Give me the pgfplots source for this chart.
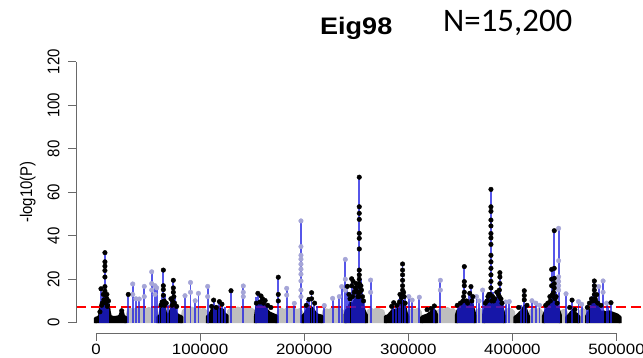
\documentclass[border=0pt]{standalone}
\usepackage{fontspec}
\setmainfont{Liberation Sans}[FakeStretch=1.13]
\newfontfamily\rotfont{Liberation Sans}
\newfontfamily\calib{Carlito}
\usepackage{pgfplots}
\usepackage{pgfplotstable}
\pgfplotsset{compat=1.18}
\definecolor{rblue}{RGB}{30,30,225}
\definecolor{lav}{RGB}{165,165,215}
\definecolor{rgrey}{RGB}{190,190,190}
\definecolor{axgrey}{RGB}{105,105,105}

\pgfplotstableread{
X Y
3800 5
4800 15.6
5500 8
6500 12
7500 10.5
8600 32.2
9800 14
10500 13
11000 7.5
12000 10
31000 13
35300 17.8
38400 11
41600 10.9
46400 16.7
53500 23.4
56700 17
58300 16
61000 9
63000 12
64700 24.2
66500 13
69000 8
72000 11
74300 19.5
76000 12
78000 8
85500 12.4
90800 18.5
95300 10.1
98400 13.5
107300 16.7
113000 10.4
115500 8
118500 9.7
121000 9
124000 7
129700 14.7
141500 16.9
153500 12
155500 13.5
157000 10
158500 12.3
160500 9
162500 10.2
164500 8
175100 20.9
183200 15.8
190500 8.9
196900 46.8
200500 8
203000 10
204500 10.7
207100 13.8
209500 9
212000 7.5
219300 7.9
227300 11.2
233700 12
236000 16.6
239500 29.1
240500 9
241500 16.7
242500 14
243500 12
245600 20.2
246500 12
247500 15
248500 17
249500 18
250500 14
251000 12
252900 66.9
254500 20
255200 15
256000 14
257000 11
258000 10
263800 19.6
285000 9
288000 8
291000 11
292000 13
294500 27
296500 12
300500 12
303700 10.4
310600 11.7
325000 7.7
330800 19.5
347500 8
349000 7
350000 9
351000 10
352000 12
353800 25.8
355000 9
356000 11
357000 9
358500 13.5
360200 16.6
361000 10
362500 12
365500 12
368000 10
371400 15
374000 9
375500 10
376500 12
377500 13
379400 61.3
380500 12
381500 14
383000 11
384000 10
385500 14
386500 13
388000 23
389000 11
390500 9
391500 8
393500 9.5
397000 9.7
408000 8
411400 14.7
413500 9
418800 10.1
422500 9
426000 8
431000 7
432500 8
434500 10
436500 12
437700 24.5
438500 13
440200 42.3
441000 11
442000 14
443000 9
444400 43.4
451500 13.3
457300 10.4
463500 9.7
466500 8.5
471500 7
473000 8
475500 11
476500 10
477500 13
478700 19.2
479800 10
480800 12.9
482000 9
482900 16.6
484500 9
486000 8
487100 19.2
490500 9
492000 7
494700 9.2
}\combs

\pgfplotstableread{
X Y
8600 32.2
8600 28
8600 26
8600 24
8600 21
8600 16.6
8600 14.5
9200 12.7
4800 15.6
7000 13
10500 13
10500 11
12000 10
6000 9
5500 8
7500 10.5
9500 9
11000 7.5
3800 5
24700 5.5
31000 13
64700 24.2
64700 17
64700 15.2
64700 12.6
65500 10
63500 9.5
65800 8
74300 19.5
74300 16
74300 14
74800 12
73500 10
73000 8
75500 9
62500 8
67500 9
72000 11
77500 7.5
113000 10.4
118500 9.7
111000 7.5
121000 8.5
115500 7
129700 14.7
155500 13.5
158500 12.3
160000 11
162500 10.2
165000 8
168000 7
154000 9
157500 9.5
161000 9
175100 20.9
175100 13
175100 10
204500 10.7
207100 13.8
207100 11
210000 9
202000 8
252900 66.9
252900 53.3
252900 50.3
252900 47.5
252900 41.1
252900 38.8
252900 33.9
252900 24.2
252900 22
252900 20
252900 18
252900 16.6
253500 14
252300 12
245600 20.2
245600 17
241500 16.7
248000 14
250000 18
250000 15
251500 12
255000 15
257000 10
244000 11
243000 13
246500 12
249000 16
251000 14
254500 17
256000 12
247000 19
294500 27
294500 24.2
294500 22
294500 19.5
294500 17
294500 15
294500 13
293500 11.5
286000 9.2
284000 7.5
289000 8
292000 13
296000 12
291500 9.5
295500 14
297000 9
325000 7.7
322000 6.5
318000 6
353800 25.8
353800 18.9
353800 17
353800 14
353200 12
360200 16.6
359000 13.5
362000 12
347000 8
350000 9
356000 10
352500 10
357000 9
361000 10
379400 61.3
379400 53.3
379400 51.2
379400 47.2
379400 44.5
379400 41
379400 39
379400 36
379400 31
379400 28
379400 25
379400 22
379400 19
379400 16
378800 13
380000 10
388000 23
388000 21
388000 18
387500 15
387500 12
374000 9
376500 12
382000 10
385000 14
390000 9
377500 13
381000 12
383000 11
386500 13
389000 11
375500 10
411400 14.7
411400 12.5
411400 10.5
406000 7
414000 8
440200 42.3
440200 25
440200 20.4
440200 18
440200 16
439500 14
439500 12
437700 24.5
437700 20
437700 17
434000 9
432000 8
436000 12
442000 12
438500 13
441000 11
436500 10
443000 9
457300 10.4
455000 7
460000 6
478700 19.2
478700 17
478700 15
478700 13
479500 11
481000 12.9
474000 9
476000 11
477000 10
480000 10
482000 9
494700 9.2
485000 8
472000 7
}\blackdots

\pgfplotstableread{
X Y
35300 17.8
35300 13
38400 11
41600 10.9
46400 16.7
46400 12
53500 23.4
53500 18
53500 15
56700 17
56700 13
58300 16
85500 12.4
90800 18.5
90800 14
95300 10.1
98400 13.5
107300 16.7
107300 12
141500 16.9
141500 14
141500 12
183200 15.8
183200 12.7
190500 8.9
196900 46.8
196900 35
196900 31
196900 29.2
196900 26.9
196900 24.6
196900 22.3
196900 19.2
196900 15
196900 12
219300 7.9
227300 11.2
233700 12
236000 16.6
239500 29.1
239500 20
239500 15
263800 19.6
263800 14
300500 12
303700 10.4
310600 11.7
330800 19.5
330800 15
365500 12
368000 10
371400 15
393500 9.5
397000 9.7
418800 10.1
422500 9
426000 8
444400 43.4
444400 28.5
444400 21.1
444400 19
444400 17
444400 15
451500 13.3
463500 9.7
466500 8.5
482900 16.6
487100 19.2
487100 14
490500 9
}\lavdots

\begin{document}
\begin{tikzpicture}
\useasboundingbox (0,0) rectangle (643bp,358bp);
\begin{axis}[
  at={(76bp,24.7bp)}, anchor=south west,
  width=567bp, height=282bp, scale only axis,
  xmin=-19200, xmax=525456, ymin=-4.87, ymax=124.78,
  clip=false,
  axis lines=left, axis line style={draw=none},
  xtick={0,100000,200000,300000,400000,500000},
  xticklabels={0,100000,200000,300000,400000,500000},
  ytick={0,20,40,60,80,100,120},
  yticklabels={},
  tick align=outside, major tick length=7.5bp,
  tick style={axgrey, line width=0.9bp},
  xticklabel style={font=\fontsize{15}{18}\selectfont, anchor=base, yshift=-13.5bp},
  blob/.style={draw=black, fill=black, line width=3bp, line join=round, mark=none},
]
% grey background points
\addplot[draw=rgrey, fill=rgrey, line width=2bp, line join=round, mark=none] coordinates {
(-600,-0.2) (-600,2) (29000,2) (30500,5.5) (33000,6.5) (36000,5.8) (39000,6.8) (42000,6) (45000,7) (48000,6.2) (51000,6.8) (54000,6) (57000,6.5) (58800,5) (60000,2)
(82000,2) (83500,5.5) (86000,6.5) (89000,6) (92000,7) (95000,6.2) (98000,6.8) (101000,6) (104000,6.5) (106500,5) (107500,2)
(125500,2) (127000,5.5) (130000,6.8) (133000,6) (136000,7) (139000,6.5) (142000,7.2) (145000,6.2) (148000,6.8) (151000,6) (153000,5) (154000,2)
(173500,2) (175000,5.5) (178000,6.5) (181000,5.8) (184000,6.8) (187000,6) (190000,6.5) (193000,5.8) (196000,6.3) (198000,5) (199000,2)
(217000,2) (218500,5.5) (221000,6.2) (224000,5.8) (227000,6.8) (230000,6) (233000,6.5) (236000,6) (238500,5) (239500,2)
(259500,2) (261000,5.5) (264000,6.5) (267000,5.8) (270000,6.8) (273000,6) (276000,5.5) (278000,2)
(299000,2) (300500,5.5) (303500,6.3) (306500,5.8) (309500,6.5) (312000,5) (313000,2)
(327000,2) (328500,5.5) (331500,6.5) (334500,6) (337500,6.8) (340500,6) (343500,6.3) (345500,5) (346500,2)
(364000,2) (365500,5.5) (368500,6.5) (371500,5) (372500,2)
(392000,2) (393500,5.5) (396500,6.5) (399500,6) (401500,5) (402500,2)
(415500,2) (417000,5.5) (420000,6.5) (423000,5.8) (426000,6.5) (428500,5) (430000,2)
(446000,2) (447500,5.5) (450000,6) (452000,5) (453000,2)
(463500,2) (465000,5.5) (467500,6.3) (470000,5.5) (471500,2)
(503500,2) (503500,-0.2)
};
% black clusters (dense low points)
\addplot[blob] coordinates {(-600,-0.2) (-600,2.0) (2000,2.4) (3500,3.2) (4200,6.5) (5500,8.5) (7000,9.5) (8300,11.5) (9300,11) (10500,9) (11800,8.5) (12800,5) (13800,2.8) (17000,2.4) (21000,2.6) (23000,3.2) (24000,4.6) (25500,4.8) (26500,3.0) (28800,2.4) (28800,-0.2)};
\addplot[blob] coordinates {(59500,-0.2) (59500,2.6) (61500,3.2) (62500,6.5) (64000,9) (65500,8.5) (66500,5) (68000,3.4) (70500,3.8) (72500,6.5) (73800,9) (75200,8) (76500,4.5) (79000,3.4) (82500,2.6) (82500,-0.2)};
\addplot[blob] coordinates {(107000,-0.2) (107000,2.8) (109000,3.5) (111000,5.5) (113000,7) (115000,5) (117500,6.5) (119500,6) (121500,6) (123500,4) (126000,3.2) (126000,-0.2)};
\addplot[blob] coordinates {(153200,-0.2) (153200,3) (154500,7.5) (156500,9) (158500,8.5) (160500,8) (162500,7) (164500,5.5) (166500,4.5) (169000,4) (171500,3.5) (173800,3) (173800,-0.2)};
\addplot[blob] coordinates {(198300,-0.2) (198300,3) (200500,4) (202500,5.5) (204500,7.5) (206500,7) (208500,6) (210500,4.5) (213000,3.5) (217200,3) (217200,-0.2)};
\addplot[blob] coordinates {(239200,-0.2) (239200,3.5) (240500,5.5) (242500,6.5) (244500,9) (246500,8) (248500,10) (250500,11) (252500,13) (254000,12) (255500,9) (257000,6.5) (258500,4.5) (259800,3.5) (259800,-0.2)};
\addplot[blob] coordinates {(278000,-0.2) (278000,2.8) (280500,3.2) (283000,4.5) (285500,6) (288000,5) (290500,6.5) (292500,8.5) (294500,10) (296500,8) (298000,4.5) (299500,3) (299500,-0.2)};
\addplot[blob] coordinates {(312800,-0.2) (312800,2.5) (315000,3) (318000,3.5) (321000,4.5) (323500,5.5) (325500,5.5) (327300,3.5) (327300,-0.2)};
\addplot[blob] coordinates {(346200,-0.2) (346200,3.5) (347500,5.5) (349500,6.5) (351500,7.5) (353500,9.5) (355500,8) (357500,7.5) (359500,9) (361500,8) (363200,5) (364300,3) (364300,-0.2)};
\addplot[blob] coordinates {(372300,-0.2) (372300,3.5) (373500,6) (375500,8) (377500,10) (379500,12) (381500,10) (383500,8.5) (385500,10) (387500,11) (389500,8) (391200,5) (392300,3) (392300,-0.2)};
\addplot[blob] coordinates {(402300,-0.2) (402300,2.5) (404500,3.2) (407000,4.5) (409500,5.5) (411500,7.5) (413000,6) (414500,4) (415600,2.8) (415600,-0.2)};
\addplot[blob] coordinates {(429800,-0.2) (429800,3) (431500,5) (433500,6.5) (435500,8) (437500,10) (439500,11) (441500,9) (443500,7) (445000,5) (446200,3.2) (446200,-0.2)};
\addplot[blob] coordinates {(452200,-0.2) (452200,2.5) (454000,3.2) (456000,4.5) (457800,5.5) (459500,4.5) (461500,4) (463800,2.8) (463800,-0.2)};
\addplot[blob] coordinates {(471300,-0.2) (471300,3) (473000,4.5) (475000,6) (477000,8) (479000,9.5) (481000,8) (483000,6) (485500,4.5) (487500,5) (490000,4.5) (493000,5) (495500,4.5) (498500,4) (501000,3.5) (503500,2.5) (503500,-0.2)};
% significance threshold
\addplot[red, line width=1.4bp, dash pattern=on 10bp off 5bp, mark=none] coordinates {(-19200,7.3) (525456,7.3)};
% vertical lines (type h)
\addplot[ycomb, rblue, opacity=0.75, line width=1.8bp, mark=none] table[x=X,y=Y] {\combs};
% points
\addplot[only marks, mark=*, mark size=2.3bp, lav, mark options={draw=lav, fill=lav}] table[x=X,y=Y] {\lavdots};
\addplot[only marks, mark=*, mark size=2.3bp, black, mark options={draw=black, fill=black}] table[x=X,y=Y] {\blackdots};
% axis lines (R style)
\draw[axgrey, line width=0.9bp] (axis cs:0,-4.87) -- (axis cs:500000,-4.87);
\draw[axgrey, line width=0.9bp] (axis cs:-19200,0) -- (axis cs:-19200,120);
\end{axis}
% y tick labels (rotated, R style)
\foreach \v/\yy in {0/35.3, 20/78.8, 40/122.3, 60/165.8, 80/209.3, 100/252.8, 120/296.3}
  \node[rotate=90, yscale=1.13, anchor=base, inner sep=0pt, font=\rotfont\fontsize{15}{18}\selectfont] at (59.3bp,\yy bp) {\v};
\node[anchor=base west, inner sep=0pt, font=\bfseries\fontsize{24}{28}\selectfont] at (320bp,323.7bp) {Eig98};
\node[anchor=base west, inner sep=0pt, font=\calib\fontsize{33}{37}\selectfont] at (443bp,326.3bp) {N=15,200};
\node[rotate=90, yscale=1.13, anchor=base, inner sep=0pt, font=\rotfont\fontsize{15}{18}\selectfont] at (32bp,166bp) {-log10(P)};
\end{tikzpicture}
\end{document}
